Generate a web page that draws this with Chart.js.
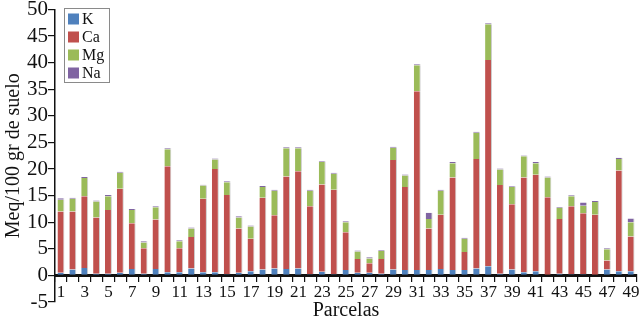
<!DOCTYPE html>
<html>
<head>
<meta charset="utf-8">
<script src="https://cdn.jsdelivr.net/npm/chart.js@4/dist/chart.umd.min.js"></script>
<style>
  html, body { margin: 0; padding: 0; background: #fff; }
  #wrap { width: 643px; height: 320px; position: relative; }
</style>
</head>
<body>
<div id="wrap"><canvas id="c" width="643" height="320"></canvas></div>
<script>
const categories = ['1','2','3','4','5','6','7','8','9','10','11','12','13','14','15','16','17','18','19','20',
  '21','22','23','24','25','26','27','28','29','30','31','32','33','34','35','36','37','38','39','40',
  '41','42','43','44','45','46','47','48','49'];
const seriesNames = ['K', 'Ca', 'Mg', 'Na'];
const K  = [0.5,1.1,1.4,0.3,0.3,0.5,1.2,0.3,1.2,0.6, 0.6,1.3,0.6,0.6,0.2,0.5,0.8,1.1,1.3,1.2,
            1.3,0.2,0.7,0.2,1.0,0.5,0.5,0.3,1.1,1.0, 1.0,1.0,1.2,1.0,1.0,1.3,1.7,0.3,1.1,0.6,
            0.8,0.1,0.3,0.2,0.2,0.1,1.1,0.8,0.8];
const Ca = [11.5,10.9,13.5,10.6,12.0,15.8,8.6,4.8,9.3,19.9, 4.5,5.9,13.8,19.4,14.9,8.3,6.1,13.5,10.0,17.4,
            18.3,12.8,16.4,15.9,7.1,2.6,1.8,2.8,20.6,15.6, 33.6,7.8,10.2,17.4,3.4,20.6,38.8,16.7,12.3,17.8,
            18.1,14.6,10.3,12.8,11.5,11.3,1.7,18.9,6.5];
const Mg = [2.2,2.4,3.4,3.0,2.6,3.0,2.5,1.1,2.3,3.2, 1.3,1.6,2.5,1.8,2.4,2.1,2.3,2.0,4.6,5.3,
            4.3,2.9,4.2,3.0,1.9,1.4,0.9,1.5,2.3,2.2, 4.9,1.8,4.5,2.7,2.5,4.9,6.7,2.9,3.2,4.0,
            2.2,3.7,2.1,1.9,1.4,2.4,2.1,2.2,2.7];
const Na = [0.3,0.2,0.2,0.2,0.2,0.2,0.2,0.2,0.2,0.2, 0.2,0.2,0.15,0.2,0.2,0.2,0.2,0.2,0.2,0.2,
            0.2,0.2,0.15,0.2,0.2,0.2,0.2,0.15,0.2,0.15, 0.2,1.2,0.2,0.2,0.2,0.2,0.2,0.2,0.15,0.15,
            0.2,0.2,0.15,0.15,0.6,0.2,0.2,0.2,0.7];
const yTicks = [-5,0,5,10,15,20,25,30,35,40,45,50];
const yTitle = 'Meq/100 gr de suelo';
const xTitle = 'Parcelas';

const colors = ['#4f81bd', '#c0504d', '#9bbb59', '#8064a2'];
const values = [K, Ca, Mg, Na];
const SERIF = '"Liberation Serif", "Times New Roman", serif';

const boxLegend = {
  id: 'boxLegend',
  afterDraw(chart) {
    const ctx = chart.ctx;
    const a = chart.chartArea;
    const x0 = a.left + 9.5, y0 = 8.5, w = 45, h = 74;
    ctx.save();
    ctx.fillStyle = '#fff';
    ctx.fillRect(x0, y0, w, h);
    ctx.strokeStyle = '#8a8a8a';
    ctx.lineWidth = 1;
    ctx.strokeRect(x0, y0, w, h);
    ctx.font = '16px ' + SERIF;
    ctx.textBaseline = 'middle';
    chart.data.datasets.forEach((ds, i) => {
      const cy = 19 + i * 18;
      ctx.fillStyle = ds.backgroundColor;
      ctx.fillRect(x0 + 3.5, cy - 5.5, 11, 11);
      ctx.fillStyle = '#111';
      ctx.fillText(ds.label, x0 + 17.5, cy + 1);
    });
    ctx.restore();
  }
};

new Chart(document.getElementById('c'), {
  type: 'bar',
  data: {
    labels: categories,
    datasets: seriesNames.map((n, i) => ({
      label: n,
      data: values[i],
      backgroundColor: colors[i],
      borderColor: 'rgba(110,110,110,0.35)',
      borderWidth: { left: 0, right: 1, top: 0, bottom: 0 },
      borderSkipped: false,
      barPercentage: 0.58,
      categoryPercentage: 1.0
    }))
  },
  options: {
    responsive: false,
    animation: false,
    layout: { padding: { left: 0, right: 6, top: 0, bottom: 0 } },
    plugins: {
      legend: { display: false },
      tooltip: { enabled: false },
      title: {
        display: true,
        text: xTitle,
        position: 'bottom',
        fullSize: false,
        color: '#111',
        font: { family: SERIF, size: 20, weight: 'normal', lineHeight: 0.9 },
        padding: 0
      }
    },
    scales: {
      x: {
        type: 'category',
        stacked: true,
        position: { y: 0 },
        z: 1,
        afterFit(s) { s.height = 0; },
        grid: { drawOnChartArea: false, offset: true, tickLength: 5, color: '#111', lineWidth: 1.2 },
        border: { display: true, color: '#111', width: 3 },
        ticks: {
          autoSkip: false, maxRotation: 0, minRotation: 0, padding: 2,
          color: '#111',
          font: { family: SERIF, size: 17 },
          callback: function (v, i) { return i % 2 === 0 ? this.getLabelForValue(v) : ''; }
        }
      },
      y: {
        stacked: true,
        min: -5, max: 50,
        afterBuildTicks(s) { s.ticks = yTicks.map(v => ({ value: v })); },
        grid: { drawOnChartArea: false, tickLength: 7, color: '#111', lineWidth: 1.2 },
        border: { display: true, color: '#111', width: 1.5 },
        ticks: {
          padding: 0, color: '#111',
          font: { family: SERIF, size: 21, lineHeight: 0.9 }
        },
        title: {
          display: true, text: yTitle, color: '#111',
          font: { family: SERIF, size: 20, lineHeight: 1.2 },
          padding: { top: 2, bottom: 1 }
        }
      }
    }
  },
  plugins: [boxLegend]
});
</script>
</body>
</html>
